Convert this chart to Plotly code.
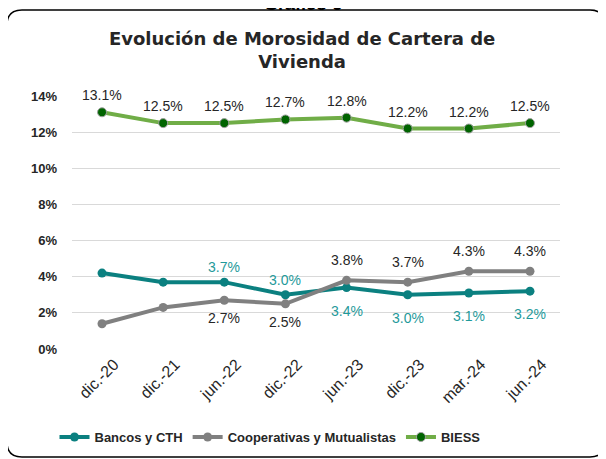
import plotly.graph_objects as go

categories = ["dic.-20", "dic.-21", "jun.-22", "dic.-22", "jun.-23", "dic.-23", "mar.-24", "jun.-24"]
bancos = [4.2, 3.7, 3.7, 3.0, 3.4, 3.0, 3.1, 3.2]
coop = [1.4, 2.3, 2.7, 2.5, 3.8, 3.7, 4.3, 4.3]
biess = [13.1, 12.5, 12.5, 12.7, 12.8, 12.2, 12.2, 12.5]
bancos_show = [False, False, True, True, True, True, True, True]
coop_show = [False, False, True, True, True, True, True, True]
bancos_above = [True, True, True, True, False, False, False, False]
coop_above = [False, False, False, False, True, True, True, True]
y_ticks = [0, 2, 4, 6, 8, 10, 12, 14]
y_tick_labels = ["0%", "2%", "4%", "6%", "8%", "10%", "12%", "14%"]

# page has an 8px body margin; figure sized to fit the 606x459 window
OFF = 8
W, H = 606 - OFF, 459 - OFF
L, R, T, B = 72 - OFF, 46, 96 - OFF, 110
pw, ph = W - L - R, H - T - B

# helpers taking picture (window) pixel coordinates
def px(x):
    return (x - OFF - L) / pw

def py(y):
    return (H - B - (y - OFF)) / ph

FONT = "Liberation Sans"
TITLE_FONT = "DejaVu Sans"
TEAL = "#0b8080"
TEAL_TXT = "#1f9a9a"
GRAY = "#808080"
GREEN = "#70ad47"
DKGREEN = "#006400"
TXT = "#262626"

fig = go.Figure()

fig.add_trace(go.Scatter(
    x=categories, y=bancos, name="Bancos y CTH", mode="lines+markers",
    line=dict(color=TEAL, width=4), marker=dict(color=TEAL, size=9),
))
fig.add_trace(go.Scatter(
    x=categories, y=coop, name="Cooperativas y Mutualistas", mode="lines+markers",
    line=dict(color=GRAY, width=4), marker=dict(color=GRAY, size=9),
))
fig.add_trace(go.Scatter(
    x=categories, y=biess, name="BIESS", mode="lines+markers",
    line=dict(color=GREEN, width=4),
    marker=dict(color=DKGREEN, size=9, line=dict(color="#a0a0a0", width=1)),
))

def add_labels(vals, show, above, color, up, down):
    for c, v, s, a in zip(categories, vals, show, above):
        if not s:
            continue
        fig.add_annotation(x=c, y=v, text=f"{v:.1f}%", showarrow=False,
                           yshift=up if a else -down, xanchor="center", yanchor="middle",
                           font=dict(size=14, family=FONT, color=color))

add_labels(bancos, bancos_show, bancos_above, TEAL_TXT, 15, 23)
add_labels(coop, coop_show, coop_above, TXT, 20, 18)
add_labels(biess, [True] * len(biess), [True] * len(biess), TXT, 17, 17)

# rounded border (picture coords)
x0, x1 = px(7), px(605)
y0, y1 = py(457), py(10)
rx, ry = 15 / pw, 15 / ph
path = (f"M {x0+rx},{y1} L {x1-rx},{y1} Q {x1},{y1} {x1},{y1-ry} "
        f"L {x1},{y0+ry} Q {x1},{y0} {x1-rx},{y0} L {x0+rx},{y0} "
        f"Q {x0},{y0} {x0},{y0+ry} L {x0},{y1-ry} Q {x0},{y1} {x0+rx},{y1} Z")
fig.add_shape(type="path", path=path, xref="paper", yref="paper",
              line=dict(color="#000000", width=1.5), layer="below")

fig.add_annotation(text="<b>Gráfico 6</b>", xref="paper", yref="paper",
                   x=px(303), y=py(16), xanchor="center", yanchor="bottom",
                   showarrow=False, font=dict(size=18, family=FONT, color="#000000"))

fig.update_layout(
    width=W, height=H,
    margin=dict(l=L, r=R, t=T, b=B, autoexpand=False),
    paper_bgcolor="white", plot_bgcolor="white",
    font=dict(family=FONT, color=TXT),
    title=dict(text="<b>Evolución de Morosidad de Cartera de<br>Vivienda</b>",
               x=px(312), xanchor="center", y=py(45) * ph / H + B / H, yanchor="middle",
               font=dict(size=18, family=TITLE_FONT, color=TXT)),
    showlegend=True,
    legend=dict(orientation="h", x=px(270), xanchor="center", y=py(437), yanchor="middle",
                font=dict(size=13, family=FONT, color=TXT, weight="bold"),
                itemwidth=30, tracegroupgap=0, bgcolor="rgba(0,0,0,0)"),
    xaxis=dict(showgrid=False, showline=False, tickangle=-45, ticks="",
               automargin=False, ticklabelshift=12, ticklabelstandoff=2,
               tickfont=dict(size=16, family=FONT, color=TXT)),
    yaxis=dict(range=[0, 14], tickvals=y_ticks, ticktext=y_tick_labels,
               showgrid=True, gridcolor="#d9d9d9", gridwidth=1, zeroline=False,
               showline=False, ticks="", ticklabelstandoff=14, automargin=False,
               tickfont=dict(size=13, family=FONT, color=TXT, weight="bold")),
)

fig.write_html("out.html")
